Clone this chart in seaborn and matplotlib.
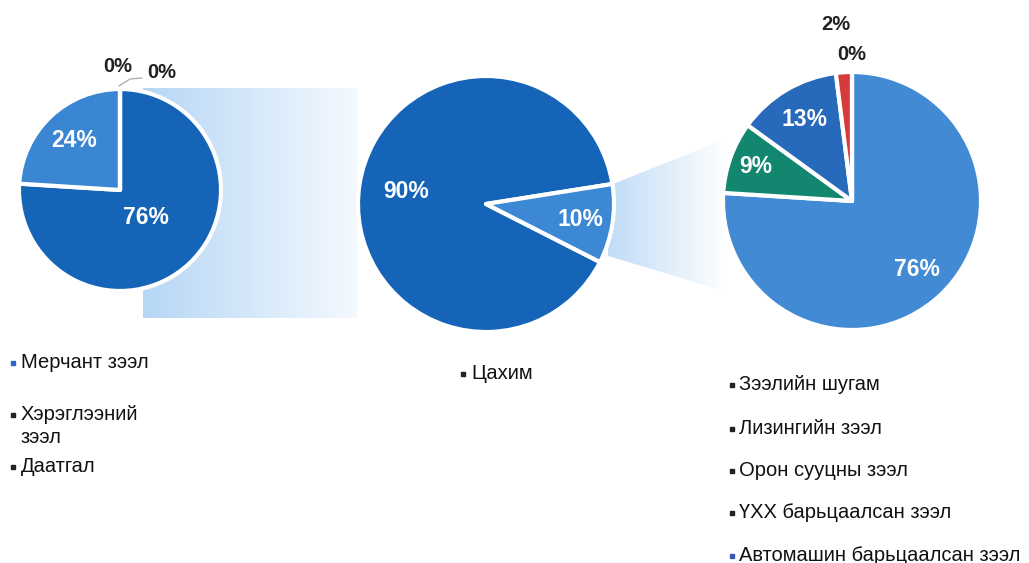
import numpy as np
import matplotlib
matplotlib.use("Agg")
import matplotlib.pyplot as plt
import seaborn as sns
from matplotlib.colors import to_rgb
from matplotlib.patches import Polygon

sns.set_theme(style="white")
plt.rcParams['font.family'] = ['Liberation Sans', 'DejaVu Sans']

# DATA
left_names = ["Мерчант зээл", "Хэрэглээний\nзээл", "Даатгал"]
left_values = [76, 24, 0, 0]

mid_names = ["Цахим"]
mid_values = [90, 10]

right_names = ["Зээлийн шугам", "Лизингийн зээл", "Орон сууцны зээл",
               "ҮХХ барьцаалсан зээл", "Автомашин барьцаалсан зээл"]
right_values = [76, 9, 13, 2, 0]

# colours
left_colors = ["#1664b8", "#3a86d2", "#2a6fc4", "#2a6fc4"]
mid_colors = ["#1664b8", "#3d88d4"]
right_colors = ["#438ad4", "#12866e", "#2769ba", "#d63a3a", "#7a7a7a"]

W, H = 1029, 563

fig = plt.figure(figsize=(W / 100, H / 100), dpi=100)
ax = fig.add_axes([0, 0, 1, 1])


def Y(y):
    # pixel row (from top) -> data y
    return H - y


def gradient_band(pts, c0, c1):
    xs = [p[0] for p in pts]
    ys = [Y(p[1]) for p in pts]
    n = 256
    t = np.linspace(0, 1, n)
    a, b = np.array(to_rgb(c0)), np.array(to_rgb(c1))
    img = (a[None, :] * (1 - t[:, None]) + b[None, :] * t[:, None])[None, :, :]
    im = ax.imshow(img, extent=(min(xs), max(xs), min(ys), max(ys)),
                   aspect="auto", zorder=0, interpolation="bilinear")
    poly = Polygon(list(zip(xs, ys)), closed=True, transform=ax.transData,
                   facecolor="none", edgecolor="none")
    ax.add_patch(poly)
    im.set_clip_path(poly)


def draw_pie(values, colors, center, radius, startangle, label_r):
    cx, cy = center[0], Y(center[1])
    wedges, _ = ax.pie(values, colors=colors, startangle=startangle,
                       counterclock=False, center=(cx, cy), radius=radius,
                       frame=True,
                       wedgeprops=dict(edgecolor="white", linewidth=3,
                                       joinstyle="round"))
    for w in wedges:
        w.set_zorder(2)
    for w, v, f in zip(wedges, values, label_r):
        if f is None:
            continue
        ang = np.deg2rad((w.theta1 + w.theta2) / 2)
        ax.text(cx + f * radius * np.cos(ang), cy + f * radius * np.sin(ang),
                f"{v}%", ha="center", va="center", color="white",
                fontsize=16.5, fontweight="bold", zorder=3)
    return wedges


def legend_block(x_marker, x_text, ys, names, colors):
    for y, name, c in zip(ys, names, colors):
        ax.plot(x_marker, Y(y), marker="s", ms=3.5, color=c, zorder=3)
        ax.text(x_text, Y(y - 10), name, ha="left", va="top", fontsize=14.5,
                color="#111111", linespacing=1.25, zorder=3)


# connector bands
gradient_band([(143, 88), (357, 88), (357, 318), (143, 318)], "#b6d7f5", "#f4f9fe")
gradient_band([(608, 186), (728, 138), (728, 292), (608, 256)], "#c0dcf6", "#ffffff")

# pies
draw_pie(left_values, left_colors, (120, 190), 101, 90, [0.38, 0.67, None, None])
draw_pie(mid_values, mid_colors, (486, 204), 128, -27, [0.63, 0.75])
draw_pie(right_values, right_colors, (852, 201), 129, 90, [0.73, 0.79, 0.73, None, None])

# small outside labels
ax.text(118, Y(66), f"{left_values[2]}%", ha="center", va="center",
        fontsize=14.5, fontweight="bold", color="#222222")
ax.text(162, Y(72), f"{left_values[3]}%", ha="center", va="center",
        fontsize=14.5, fontweight="bold", color="#222222")
ax.plot([119, 130, 142], [Y(86), Y(79), Y(78)], color="#b0b0b0", lw=1, zorder=3)
ax.text(836, Y(25), f"{right_values[3]}%", ha="center", va="center",
        fontsize=14.5, fontweight="bold", color="#222222")
ax.text(852, Y(54), f"{right_values[4]}%", ha="center", va="center",
        fontsize=14.5, fontweight="bold", color="#222222")

# legends
legend_block(13, 21, [363, 415, 467], left_names, ["#2a66c0", "#222222", "#222222"])
legend_block(463, 471, [374], mid_names, ["#222222"])
legend_block(732, 739, [385, 429, 471, 513, 556], right_names,
             ["#222222", "#222222", "#222222", "#222222", "#3b55b5"])

ax.set_xlim(0, W)
ax.set_ylim(0, H)
ax.axis("off")

fig.savefig("out.png", dpi=100)
